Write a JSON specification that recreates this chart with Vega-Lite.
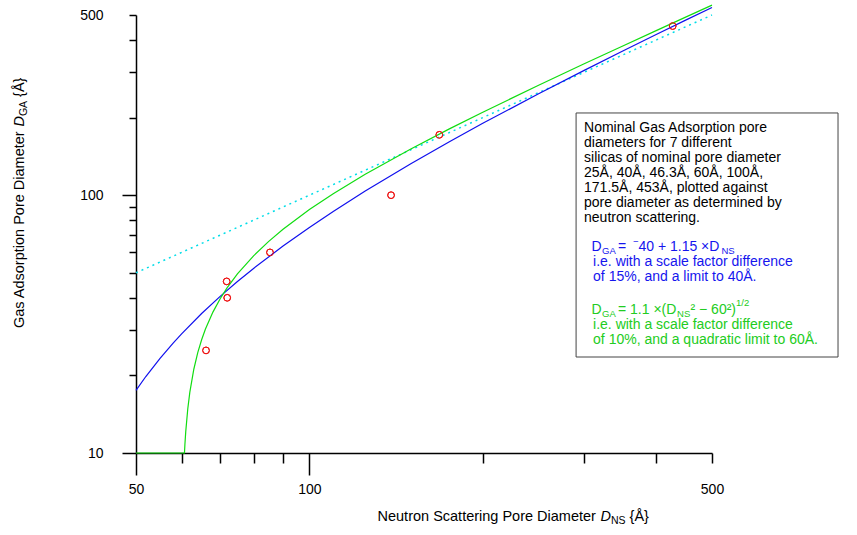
{
  "$schema": "https://vega.github.io/schema/vega-lite/v6.json",
  "width": 576,
  "height": 438,
  "autosize": "none",
  "padding": {"left": 136, "top": 15, "right": 145, "bottom": 82},
  "background": "white",
  "config": {"view": {"stroke": null}, "font": "Liberation Sans", "axis": {"grid": false}},
  "datasets": {
    "points": [
      {"ns": 66.15, "ga": 25},
      {"ns": 72.0, "ga": 40},
      {"ns": 71.84, "ga": 46.3},
      {"ns": 85.42, "ga": 60},
      {"ns": 138.6, "ga": 100},
      {"ns": 168.1, "ga": 171.5},
      {"ns": 427.3, "ga": 453}
    ],
    "curves": [
      {"model": "linear", "ns": 50, "ga": 17.5},
      {"model": "linear", "ns": 52, "ga": 19.8},
      {"model": "linear", "ns": 55, "ga": 23.25},
      {"model": "linear", "ns": 58, "ga": 26.7},
      {"model": "linear", "ns": 60, "ga": 29},
      {"model": "linear", "ns": 65, "ga": 34.75},
      {"model": "linear", "ns": 70, "ga": 40.5},
      {"model": "linear", "ns": 75, "ga": 46.25},
      {"model": "linear", "ns": 80, "ga": 52},
      {"model": "linear", "ns": 90, "ga": 63.5},
      {"model": "linear", "ns": 100, "ga": 75},
      {"model": "linear", "ns": 110, "ga": 86.5},
      {"model": "linear", "ns": 125, "ga": 103.75},
      {"model": "linear", "ns": 150, "ga": 132.5},
      {"model": "linear", "ns": 175, "ga": 161.25},
      {"model": "linear", "ns": 200, "ga": 190},
      {"model": "linear", "ns": 250, "ga": 247.5},
      {"model": "linear", "ns": 300, "ga": 305},
      {"model": "linear", "ns": 350, "ga": 362.5},
      {"model": "linear", "ns": 400, "ga": 420},
      {"model": "linear", "ns": 450, "ga": 477.5},
      {"model": "linear", "ns": 500, "ga": 535},
      {"model": "quadratic", "ns": 50, "ga": 10},
      {"model": "quadratic", "ns": 60, "ga": 10},
      {"model": "quadratic", "ns": 60.69, "ga": 10},
      {"model": "quadratic", "ns": 60.8, "ga": 10.81},
      {"model": "quadratic", "ns": 61, "ga": 12.1},
      {"model": "quadratic", "ns": 61.5, "ga": 14.85},
      {"model": "quadratic", "ns": 62, "ga": 17.18},
      {"model": "quadratic", "ns": 63, "ga": 21.13},
      {"model": "quadratic", "ns": 64, "ga": 24.5},
      {"model": "quadratic", "ns": 65, "ga": 27.5},
      {"model": "quadratic", "ns": 66, "ga": 30.25},
      {"model": "quadratic", "ns": 68, "ga": 35.2},
      {"model": "quadratic", "ns": 70, "ga": 39.66},
      {"model": "quadratic", "ns": 72, "ga": 43.78},
      {"model": "quadratic", "ns": 75, "ga": 49.5},
      {"model": "quadratic", "ns": 80, "ga": 58.2},
      {"model": "quadratic", "ns": 85, "ga": 66.23},
      {"model": "quadratic", "ns": 90, "ga": 73.79},
      {"model": "quadratic", "ns": 100, "ga": 88},
      {"model": "quadratic", "ns": 110, "ga": 101.4},
      {"model": "quadratic", "ns": 125, "ga": 120.6},
      {"model": "quadratic", "ns": 150, "ga": 151.2},
      {"model": "quadratic", "ns": 175, "ga": 180.8},
      {"model": "quadratic", "ns": 200, "ga": 209.9},
      {"model": "quadratic", "ns": 250, "ga": 267.0},
      {"model": "quadratic", "ns": 300, "ga": 323.3},
      {"model": "quadratic", "ns": 350, "ga": 379.3},
      {"model": "quadratic", "ns": 400, "ga": 435.0},
      {"model": "quadratic", "ns": 450, "ga": 490.6},
      {"model": "quadratic", "ns": 500, "ga": 546.0},
      {"model": "identity", "ns": 50, "ga": 50},
      {"model": "identity", "ns": 500, "ga": 500}
    ],
    "box": [{"x1": 290.4, "x2": 827.5, "y1": 208.4, "y2": 23.57}],
    "box_main": [
      {"grp": "note", "ns": 299.8, "ga": 181.8, "txt": "Nominal Gas Adsorption pore"},
      {"grp": "note", "ns": 299.8, "ga": 158.96, "txt": "diameters for 7 different"},
      {"grp": "note", "ns": 299.8, "ga": 139.0, "txt": "silicas of nominal pore diameter"},
      {"grp": "note", "ns": 299.8, "ga": 121.6, "txt": "25Å, 40Å, 46.3Å, 60Å, 100Å,"},
      {"grp": "note", "ns": 299.8, "ga": 106.4, "txt": "171.5Å, 453Å, plotted against"},
      {"grp": "note", "ns": 299.8, "ga": 93.0, "txt": "pore diameter as determined by"},
      {"grp": "note", "ns": 299.8, "ga": 81.35, "txt": "neutron scattering."},
      {"grp": "linear", "ns": 308.9, "ga": 62.95, "txt": "D"},
      {"grp": "linear", "ns": 343.4, "ga": 62.95, "txt": "="},
      {"grp": "linear", "ns": 372.6, "ga": 62.95, "txt": "40 + 1.15 ×D"},
      {"grp": "linear", "ns": 310.8, "ga": 55.22, "txt": "i.e. with a scale factor difference"},
      {"grp": "linear", "ns": 310.8, "ga": 48.29, "txt": "of 15%, and a limit to 40Å."},
      {"grp": "quadratic", "ns": 308.9, "ga": 35.87, "txt": "D"},
      {"grp": "quadratic", "ns": 343.4, "ga": 35.87, "txt": "= 1.1 ×(D"},
      {"grp": "quadratic", "ns": 458.8, "ga": 35.87, "txt": "² − 60²)"},
      {"grp": "quadratic", "ns": 310.8, "ga": 31.37, "txt": "i.e. with a scale factor difference"},
      {"grp": "quadratic", "ns": 310.8, "ga": 27.43, "txt": "of 10%, and a quadratic limit to 60Å."}
    ],
    "box_small": [
      {"grp": "linear", "ns": 322.1, "ga": 60.74, "txt": "GA"},
      {"grp": "linear", "ns": 519.2, "ga": 60.74, "txt": "NS"},
      {"grp": "linear", "ns": 364.6, "ga": 65.82, "txt": "−"},
      {"grp": "quadratic", "ns": 322.1, "ga": 34.61, "txt": "GA"},
      {"grp": "quadratic", "ns": 434.8, "ga": 34.61, "txt": "NS"},
      {"grp": "quadratic", "ns": 550.5, "ga": 38.18, "txt": "1/2"}
    ],
    "xtitle": [
      {"ns": 131.3, "ga": 5.647, "txt": "Neutron Scattering Pore Diameter"},
      {"ns": 359.6, "ga": 5.647, "txt": "{Å}"}
    ],
    "xtitle_it": [{"ns": 320.1, "ga": 5.647, "txt": "D"}],
    "xtitle_sub": [{"ns": 333.9, "ga": 5.448, "txt": "NS"}],
    "ytitle": [
      {"ns": 31.45, "ga": 30.54, "txt": "Gas Adsorption Pore Diameter"},
      {"ns": 31.45, "ga": 240.6, "txt": "{Å}"}
    ],
    "ytitle_it": [{"ns": 31.45, "ga": 184.5, "txt": "D"}],
    "ytitle_sub": [{"ns": 31.96, "ga": 202.7, "txt": "GA"}]
  },
  "layer": [
    {
      "data": {"name": "points"},
      "mark": {"type": "point", "shape": "circle", "filled": false, "stroke": "#ee1111", "strokeWidth": 1, "size": 45, "opacity": 1},
      "encoding": {
        "x": {
          "field": "ns", "type": "quantitative",
          "scale": {"type": "log", "domain": [50, 500], "nice": false},
          "axis": {
            "values": [50, 60, 70, 80, 90, 100, 200, 300, 400, 500],
            "labelExpr": "datum.value == 50 || datum.value == 100 || datum.value == 500 ? format(datum.value, 'd') : ''",
            "tickSize": {"condition": {"test": "datum.value == 50 || datum.value == 100", "value": 22}, "value": 10},
            "labelPadding": {"condition": {"test": "datum.value == 500", "value": 19}, "value": 7},
            "labelFlush": false,
            "labelOverlap": false,
            "labelFontSize": 14,
            "labelColor": "black",
            "domainColor": "black",
            "tickColor": "black",
            "domainWidth": 1.5,
            "tickWidth": 1.5,
            "title": null,
            "grid": false
          }
        },
        "y": {
          "field": "ga", "type": "quantitative",
          "scale": {"type": "log", "domain": [10, 500], "nice": false},
          "axis": {
            "values": [10, 20, 30, 40, 50, 60, 70, 80, 90, 100, 200, 300, 400, 500],
            "labelExpr": "datum.value == 10 || datum.value == 100 || datum.value == 500 ? format(datum.value, 'd') : ''",
            "tickSize": {"condition": {"test": "datum.value == 10 || datum.value == 100", "value": 14}, "value": 7},
            "labelPadding": {"condition": {"test": "datum.value == 500", "value": 26}, "value": 19},
            "labelFlush": false,
            "labelOverlap": false,
            "labelFontSize": 14,
            "labelColor": "black",
            "domainColor": "black",
            "tickColor": "black",
            "domainWidth": 1.5,
            "tickWidth": 1.5,
            "title": null,
            "grid": false
          }
        }
      }
    },
    {
      "data": {"name": "curves"},
      "transform": [{"filter": "datum.model == 'identity'"}],
      "mark": {"type": "line", "color": "#00dde8", "strokeWidth": 1.5, "strokeDash": [2, 4]},
      "encoding": {
        "x": {"field": "ns", "type": "quantitative", "scale": {"type": "log", "domain": [50, 500], "nice": false}},
        "y": {"field": "ga", "type": "quantitative", "scale": {"type": "log", "domain": [10, 500], "nice": false}}
      }
    },
    {
      "data": {"name": "curves"},
      "transform": [{"filter": "datum.model == 'linear'"}],
      "mark": {"type": "line", "color": "#1010ee", "strokeWidth": 1.2},
      "encoding": {
        "x": {"field": "ns", "type": "quantitative", "scale": {"type": "log", "domain": [50, 500], "nice": false}},
        "y": {"field": "ga", "type": "quantitative", "scale": {"type": "log", "domain": [10, 500], "nice": false}}
      }
    },
    {
      "data": {"name": "curves"},
      "transform": [{"filter": "datum.model == 'quadratic'"}],
      "mark": {"type": "line", "color": "#11dd11", "strokeWidth": 1.2},
      "encoding": {
        "x": {"field": "ns", "type": "quantitative", "scale": {"type": "log", "domain": [50, 500], "nice": false}},
        "y": {"field": "ga", "type": "quantitative", "scale": {"type": "log", "domain": [10, 500], "nice": false}}
      }
    },
    {
      "data": {"name": "box"},
      "mark": {"type": "rect", "fill": "white", "stroke": "#444444", "strokeWidth": 1},
      "encoding": {
        "x": {"field": "x1", "type": "quantitative", "scale": {"type": "log", "domain": [50, 500], "nice": false}},
        "x2": {"field": "x2"},
        "y": {"field": "y1", "type": "quantitative", "scale": {"type": "log", "domain": [10, 500], "nice": false}},
        "y2": {"field": "y2"}
      }
    },
    {
      "data": {"name": "points"},
      "mark": {"type": "point", "shape": "circle", "filled": false, "stroke": "#ee1111", "strokeWidth": 1, "size": 45, "opacity": 1},
      "encoding": {
        "x": {"field": "ns", "type": "quantitative", "scale": {"type": "log", "domain": [50, 500], "nice": false}},
        "y": {"field": "ga", "type": "quantitative", "scale": {"type": "log", "domain": [10, 500], "nice": false}}
      }
    },
    {
      "data": {"name": "box_main"},
      "mark": {"type": "text", "align": "left", "baseline": "middle", "fontSize": 14},
      "encoding": {
        "x": {"field": "ns", "type": "quantitative", "scale": {"type": "log", "domain": [50, 500], "nice": false}},
        "y": {"field": "ga", "type": "quantitative", "scale": {"type": "log", "domain": [10, 500], "nice": false}},
        "text": {"field": "txt"},
        "color": {"field": "grp", "type": "nominal", "scale": {"domain": ["note", "linear", "quadratic"], "range": ["#000000", "#1515ee", "#22cc22"]}, "legend": null}
      }
    },
    {
      "data": {"name": "box_small"},
      "mark": {"type": "text", "align": "left", "baseline": "middle", "fontSize": 9.5},
      "encoding": {
        "x": {"field": "ns", "type": "quantitative", "scale": {"type": "log", "domain": [50, 500], "nice": false}},
        "y": {"field": "ga", "type": "quantitative", "scale": {"type": "log", "domain": [10, 500], "nice": false}},
        "text": {"field": "txt"},
        "color": {"field": "grp", "type": "nominal", "scale": {"domain": ["note", "linear", "quadratic"], "range": ["#000000", "#1515ee", "#22cc22"]}, "legend": null}
      }
    },
    {
      "data": {"name": "xtitle"},
      "mark": {"type": "text", "align": "left", "baseline": "middle", "fontSize": 14.5, "color": "black"},
      "encoding": {
        "x": {"field": "ns", "type": "quantitative", "scale": {"type": "log", "domain": [50, 500], "nice": false}},
        "y": {"field": "ga", "type": "quantitative", "scale": {"type": "log", "domain": [10, 500], "nice": false}},
        "text": {"field": "txt"}
      }
    },
    {
      "data": {"name": "xtitle_it"},
      "mark": {"type": "text", "align": "left", "baseline": "middle", "fontSize": 14.5, "fontStyle": "italic", "color": "black"},
      "encoding": {
        "x": {"field": "ns", "type": "quantitative", "scale": {"type": "log", "domain": [50, 500], "nice": false}},
        "y": {"field": "ga", "type": "quantitative", "scale": {"type": "log", "domain": [10, 500], "nice": false}},
        "text": {"field": "txt"}
      }
    },
    {
      "data": {"name": "xtitle_sub"},
      "mark": {"type": "text", "align": "left", "baseline": "middle", "fontSize": 10.5, "color": "black"},
      "encoding": {
        "x": {"field": "ns", "type": "quantitative", "scale": {"type": "log", "domain": [50, 500], "nice": false}},
        "y": {"field": "ga", "type": "quantitative", "scale": {"type": "log", "domain": [10, 500], "nice": false}},
        "text": {"field": "txt"}
      }
    },
    {
      "data": {"name": "ytitle"},
      "mark": {"type": "text", "align": "left", "baseline": "middle", "fontSize": 14.5, "angle": 270, "color": "black"},
      "encoding": {
        "x": {"field": "ns", "type": "quantitative", "scale": {"type": "log", "domain": [50, 500], "nice": false}},
        "y": {"field": "ga", "type": "quantitative", "scale": {"type": "log", "domain": [10, 500], "nice": false}},
        "text": {"field": "txt"}
      }
    },
    {
      "data": {"name": "ytitle_it"},
      "mark": {"type": "text", "align": "left", "baseline": "middle", "fontSize": 14.5, "fontStyle": "italic", "angle": 270, "color": "black"},
      "encoding": {
        "x": {"field": "ns", "type": "quantitative", "scale": {"type": "log", "domain": [50, 500], "nice": false}},
        "y": {"field": "ga", "type": "quantitative", "scale": {"type": "log", "domain": [10, 500], "nice": false}},
        "text": {"field": "txt"}
      }
    },
    {
      "data": {"name": "ytitle_sub"},
      "mark": {"type": "text", "align": "left", "baseline": "middle", "fontSize": 10.5, "angle": 270, "color": "black"},
      "encoding": {
        "x": {"field": "ns", "type": "quantitative", "scale": {"type": "log", "domain": [50, 500], "nice": false}},
        "y": {"field": "ga", "type": "quantitative", "scale": {"type": "log", "domain": [10, 500], "nice": false}},
        "text": {"field": "txt"}
      }
    }
  ]
}
